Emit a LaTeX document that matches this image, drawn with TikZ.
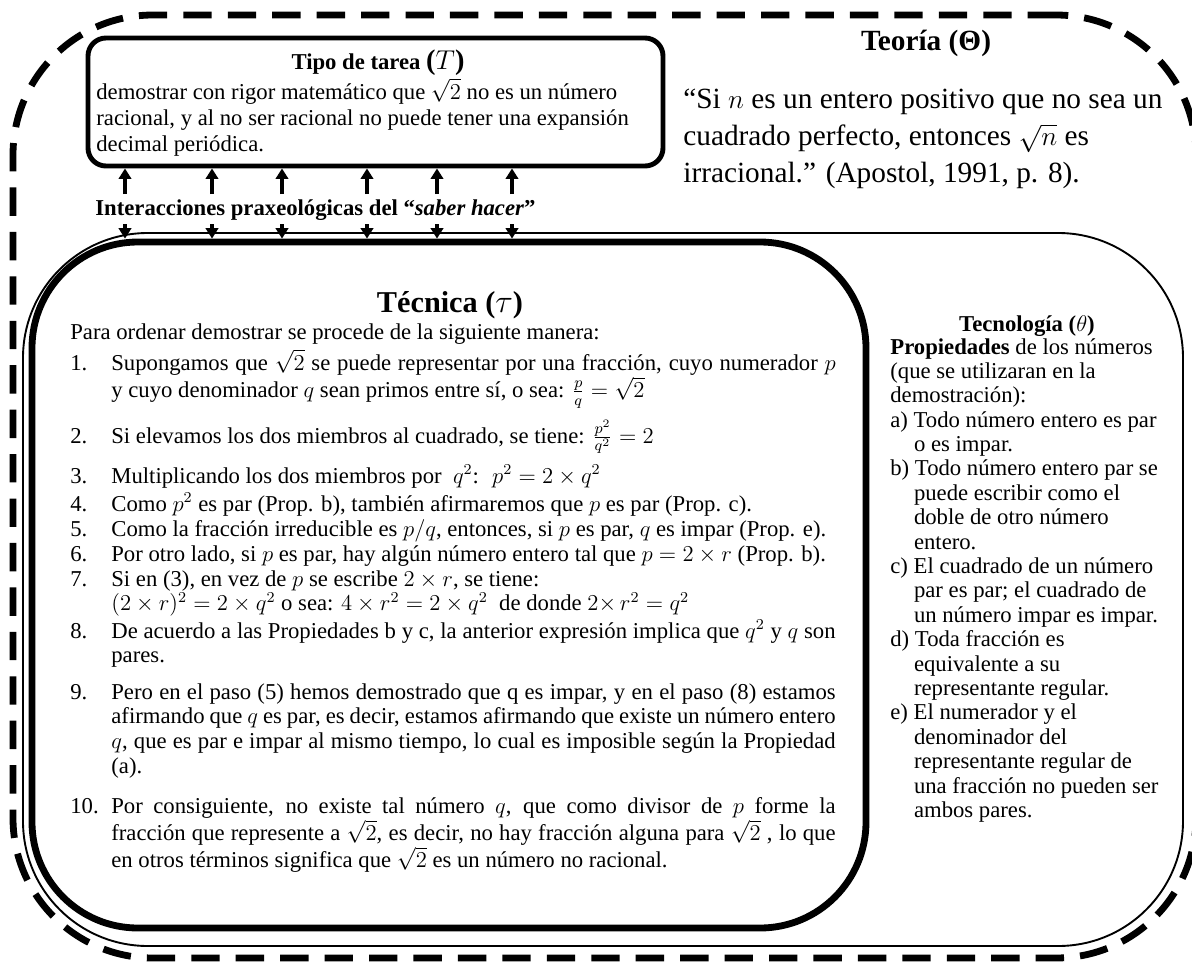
\documentclass[tikz,border=0pt]{standalone}
\usepackage{fontspec}
\setmainfont{Liberation Serif}
\usetikzlibrary{arrows.meta,fit,positioning}

\newcommand{\numpaso}[1]{\llap{\makebox[21.7pt][l]{#1}}}
\newcommand{\sangria}{\hspace*{12.5pt}}

\tikzset{
  every node/.style={font=\fontsize{12}{13.2}\selectfont, text=black, inner sep=0pt},
  marcoteoria/.style={draw, line width=3.6pt, dash pattern=on 15pt off 8.5pt, rounded corners=74pt},
  marcopraxis/.style={draw, line width=1pt, rounded corners=66pt},
  marcotecnica/.style={draw, line width=3.6pt, rounded corners=56pt},
  marcotarea/.style={draw, line width=2.6pt, rounded corners=9.5pt},
  flecha/.style={-{Triangle[length=5.5pt,width=6.5pt]}, line width=1.6pt},
  titulo/.style={anchor=base, font=\bfseries\fontsize{12}{13.2}\selectfont},
  paso/.style={anchor=base west, text width=383pt, align=justify},
  cita/.style={anchor=base west, text width=300pt, align=flush left, font=\fontsize{15.5}{19.8}\selectfont}
}

\begin{document}
\begin{tikzpicture}[x=0.01859cm, y=-0.01859cm]
  \clip (0,0) rectangle (1192,965);

  % marcos
  \node[marcoteoria, fit={(13,15) (1196,958)}] (teoria) {};
  \node[marcopraxis, fit={(23,233) (1183,946)}] (praxis) {};
  \node[marcotecnica, fit={(32,242) (866,928)}] (tecnica) {};
  \node[marcotarea, fit={(88,38) (663,166)}] (tarea) {};

  % tipo de tarea
  \node[titulo] (tareatit) at (378,69)
    {Tipo de tarea {\fontsize{15}{15}\selectfont(\textnormal{$T$})}};
  \node[anchor=base west, text width=300pt, align=flush left, font=\fontsize{12}{13.75}\selectfont] (tareatxt) at (96,99) {
    demostrar con rigor matemático que $\sqrt{2}$ no es un número\\
    racional, y al no ser racional no puede tener una expansión\\
    decimal periódica.
  };

  % interacciones
  \node[anchor=base west, font=\bfseries\fontsize{12}{13.2}\selectfont] (interac) at (95,215)
    {Interacciones praxeológicas del “\textit{saber hacer}”};
  \foreach \x [count=\i] in {125,212,282,367,437,512} {
    \coordinate (sube\i) at (\x,194);
    \coordinate (baja\i) at (\x,224);
    \draw[flecha] (sube\i) -- (sube\i |- tarea.south);
    \draw[flecha] (baja\i) -- (baja\i |- tecnica.north);
  }

  % teoria
  \node[titulo, font=\bfseries\fontsize{15.5}{18}\selectfont] (teoriatit) at (926,50) {Teoría (Θ)};
  \node[cita] (teoriatxt) at (683,108) {
    “Si $n$ es un entero positivo que no sea un\\
    cuadrado perfecto, entonces $\sqrt{n}$ es\\
    irracional.” (Apostol, 1991, p. 8).
  };

  % tecnica
  \node[titulo, font=\bfseries\fontsize{16}{19}\selectfont] (tecnicatit) at (450,312) {Técnica ($\tau$)};
  \node[paso, text width=405pt] (intro) at (70,339) {Para ordenar demostrar se procede de la siguiente manera:};
  \node[paso] (paso1) at (111,370) {\numpaso{1.}Supongamos que $\sqrt{2}$ se puede representar por una fracción, cuyo numerador $p$\linebreak
    y cuyo denominador $q$ sean primos entre sí, o sea: $\frac{p}{q}=\sqrt{2}$};
  \node[paso] (paso2) at (111,443) {\numpaso{2.}Si elevamos los dos miembros al cuadrado, se tiene: $\frac{p^2}{q^2}=2$};
  \node[paso] (paso3) at (111,483) {\numpaso{3.}Multiplicando los dos miembros por \ $q^2$: \ $p^2=2\times q^2$};
  \node[paso] (paso4) at (111,511) {\numpaso{4.}Como $p^2$ es par (Prop. b), también afirmaremos que $p$ es par (Prop. c).};
  \node[paso] (paso5) at (111,536) {\numpaso{5.}Como la fracción irreducible es $p/q$, entonces, si $p$ es par, $q$ es impar (Prop. e).};
  \node[paso] (paso6) at (111,561) {\numpaso{6.}Por otro lado, si $p$ es par, hay algún número entero tal que $p=2\times r$ (Prop. b).};
  \node[paso] (paso7) at (111,586) {\numpaso{7.}Si en (3), en vez de $p$ se escribe $2\times r$, se tiene:\newline
    $(2\times r)^2=2\times q^2$ o sea: $4\times r^2=2\times q^2$\enspace de donde $2{\times}\,r^2=q^2$};
  \node[paso] (paso8) at (111,638) {\numpaso{8.}De acuerdo a las Propiedades b y c, la anterior expresión implica que $q^2$ y $q$ son\linebreak
    pares.};
  \node[paso] (paso9) at (111,699) {\numpaso{9.}Pero en el paso (5) hemos demostrado que q es impar, y en el paso (8) estamos\linebreak
    afirmando que $q$ es par, es decir, estamos afirmando que existe un número entero\linebreak
    $q$, que es par e impar al mismo tiempo, lo cual es imposible según la Propiedad\linebreak
    (a).};
  \node[paso] (paso10) at (111,813) {\numpaso{10.}Por consiguiente, no existe tal número $q$, que como divisor de $p$ forme la\linebreak
    fracción que represente a $\sqrt{2}$, es decir, no hay fracción alguna para $\sqrt{2}$ , lo que\linebreak
    en otros términos significa que $\sqrt{2}$ es un número no racional.};

  % tecnologia
  \node[titulo] (tecnotit) at (1027,331) {Tecnología ($\theta$)};
  \node[anchor=base west, text width=152pt, align=flush left, font=\fontsize{12}{12.9}\selectfont] (tecnotxt) at (890,354) {
    \textbf{Propiedades} de los números\\
    (que se utilizaran en la\\
    demostración):\\
    a) Todo número entero es par\\
    \sangria o es impar.\\
    b) Todo número entero par se\\
    \sangria puede escribir como el\\
    \sangria doble de otro número\\
    \sangria entero.\\
    c) El cuadrado de un número\\
    \sangria par es par; el cuadrado de\\
    \sangria un número impar es impar.\\
    d) Toda fracción es\\
    \sangria equivalente a su\\
    \sangria representante regular.\\
    e) El numerador y el\\
    \sangria denominador del\\
    \sangria representante regular de\\
    \sangria una fracción no pueden ser\\
    \sangria ambos pares.
  };
\end{tikzpicture}
\end{document}
